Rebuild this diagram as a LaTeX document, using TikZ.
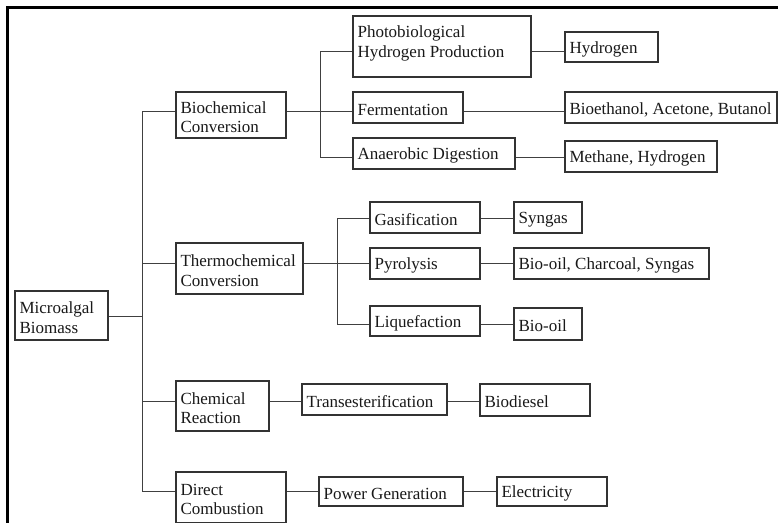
\documentclass[tikz,border=0pt]{standalone}
\usepackage{fontspec}
\setmainfont{Liberation Serif}
\newcommand\mybox[7][]{%
  \node[box,minimum width=#5pt,minimum height=#6pt] (#2) at (#3,#4) {};
  \node[lbl,anchor=west,#1] (#2-t) at (#2.west) {#7};}
\begin{document}
\begin{tikzpicture}[x=1pt,y=-1pt,
  box/.style={draw=black!80,line width=1.3pt,inner sep=0pt},
  lbl/.style={inner xsep=5pt,inner ysep=0pt,align=left,text=black!90,
    yshift=-2pt,font=\fontsize{17}{19.5}\selectfont},
  conn/.style={draw=black!75,line width=1pt}]
\clip (0,0) rectangle (778,522);
\fill[white] (0,0) rectangle (778,522);
% frame
\draw[line width=2.6pt] (7.5,530) -- (7.5,7.5) -- (790,7.5);
% nodes
\mybox{bio}{61.5}{315.5}{93}{49}{Microalgal\\Biomass}
\mybox{biochem}{231}{115}{110}{46}{Biochemical\\Conversion}
\mybox{thermo}{239.5}{268.5}{127}{51}{Thermochemical\\Conversion}
\mybox{chem}{222.5}{406}{93}{50}{Chemical\\Reaction}
\mybox{direct}{231}{497.5}{110}{51}{Direct\\Combustion}
\mybox[yshift=5pt]{photo}{442}{46.5}{178}{61}{Photobiological\\Hydrogen Production}
\mybox{hyd}{611.5}{47}{93}{30}{Hydrogen}
\mybox{ferm}{408}{107.5}{110}{31}{Fermentation}
\mybox{bioeth}{671}{107.5}{212}{31}{Bioethanol, Acetone, Butanol}
\mybox{anaer}{434}{153.5}{162}{31}{Anaerobic Digestion}
\mybox{meth}{641}{156.5}{152}{31}{Methane, Hydrogen}
\mybox{gas}{425}{217.5}{110}{31}{Gasification}
\mybox{syn}{548}{217.5}{68}{31}{Syngas}
\mybox{pyro}{425}{263.5}{110}{31}{Pyrolysis}
\mybox{bcs}{611.5}{263.5}{195}{31}{Bio-oil, Charcoal, Syngas}
\mybox{liq}{425}{321}{110}{30}{Liquefaction}
\mybox{biooil}{548}{324}{68}{32}{Bio-oil}
\mybox{trans}{374.5}{399.5}{145}{31}{Transesterification}
\mybox{biodiesel}{535}{400}{110}{32}{Biodiesel}
\mybox{power}{391}{491.5}{144}{29}{Power Generation}
\mybox{elec}{552}{491.5}{110}{29}{Electricity}
% junction coordinates
\coordinate (ya) at (142,316);
\coordinate (yb) at (142,111);
\coordinate (yc) at (142,263);
\coordinate (yd) at (142,401);
\coordinate (ye) at (142,491);
\coordinate (b1) at (320,51);
\coordinate (b3) at (320,157);
\coordinate (t1) at (337,218);
\coordinate (t3) at (337,324);
% level 1
\draw[conn] (bio.east |- ya) -- (ya);
\draw[conn] (yb) -- (ye);
\draw[conn] (yb) -- (biochem.west |- yb);
\draw[conn] (yc) -- (thermo.west |- yc);
\draw[conn] (yd) -- (chem.west |- yd);
\draw[conn] (ye) -- (direct.west |- ye);
% biochemical
\draw[conn] (biochem.east |- yb) -- (ferm.west |- yb);
\draw[conn] (b1) -- (b3);
\draw[conn] (b1) -- (photo.west |- b1);
\draw[conn] (b3) -- (anaer.west |- b3);
\draw[conn] (photo.east |- b1) -- (hyd.west |- b1);
\draw[conn] (ferm.east |- yb) -- (bioeth.west |- yb);
\draw[conn] (anaer.east |- b3) -- (meth.west |- b3);
% thermochemical
\draw[conn] (thermo.east |- yc) -- (pyro.west |- yc);
\draw[conn] (t1) -- (t3);
\draw[conn] (t1) -- (gas.west |- t1);
\draw[conn] (t3) -- (liq.west |- t3);
\draw[conn] (gas.east |- t1) -- (syn.west |- t1);
\draw[conn] (pyro.east |- yc) -- (bcs.west |- yc);
\draw[conn] (liq.east |- t3) -- (biooil.west |- t3);
% chemical
\draw[conn] (chem.east |- yd) -- (trans.west |- yd);
\draw[conn] (trans.east |- yd) -- (biodiesel.west |- yd);
% direct
\draw[conn] (direct.east |- ye) -- (power.west |- ye);
\draw[conn] (power.east |- ye) -- (elec.west |- ye);
\end{tikzpicture}
\end{document}
